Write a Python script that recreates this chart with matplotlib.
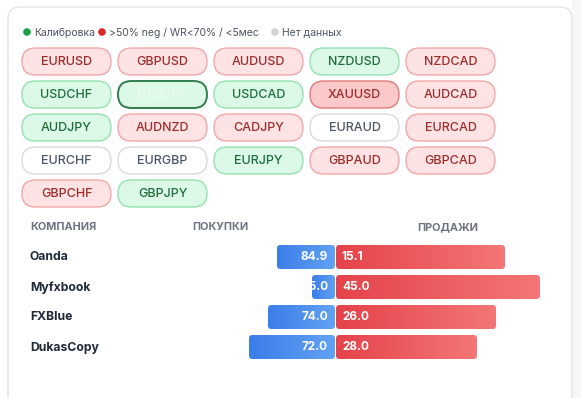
import numpy as np
import matplotlib.pyplot as plt
from matplotlib.patches import FancyBboxPatch, Circle, Rectangle
from matplotlib.colors import LinearSegmentedColormap

plt.rcParams['font.family'] = ['Inter', 'DejaVu Sans']

# ----------------- data -----------------
pairs = ["EURUSD", "GBPUSD", "AUDUSD", "NZDUSD", "NZDCAD",
         "USDCHF", "USDJPY", "USDCAD", "XAUUSD", "AUDCAD",
         "AUDJPY", "AUDNZD", "CADJPY", "EURAUD", "EURCAD",
         "EURCHF", "EURGBP", "EURJPY", "GBPAUD", "GBPCAD",
         "GBPCHF", "GBPJPY"]
status = ["red", "red", "red", "green", "red",
          "green", "green_sel", "green", "red_strong", "red",
          "green", "red", "red", "gray", "red",
          "gray", "gray", "green", "red", "red",
          "red", "green"]

legend_labels = ["Калибровка", ">50% neg / WR<70% / <5мес", "Нет данных"]

companies = ["Oanda", "Myfxbook", "FXBlue", "DukasCopy"]
buy_pct = [84.9, 55.0, 74.0, 72.0]
sell_pct = [15.1, 45.0, 26.0, 28.0]
# bar lengths as drawn (screen units)
buy_len = [58, 23, 67, 86]
sell_len = [169, 204, 160, 141]

# ----------------- styles -----------------
pill_style = {
    "red":        ("#fde3e3", "#f1a7a7", "#9b2c2c", 1.0),
    "red_strong": ("#fbc9c9", "#e07a7a", "#9b2c2c", 1.0),
    "green":      ("#dcf8e6", "#93e2af", "#1e6b3c", 1.0),
    "green_sel":  ("#dcf8e6", "#2f7d4c", "#eefaf2", 1.4),
    "gray":       ("#ffffff", "#d6d9de", "#4b5563", 1.0),
}
legend_colors = ["#16a34a", "#dc2626", "#d4d4d8"]

fig = plt.figure(figsize=(5.81, 3.98), dpi=100)
ax = fig.add_axes([0, 0, 1, 1])
W, H = 581, 398

# background strip + card
ax.add_patch(Rectangle((572, 0), 10, H, facecolor="#f7f7f8", edgecolor="none"))
ax.add_patch(FancyBboxPatch((8, 7), 564, 430,
                            boxstyle="round,pad=0,rounding_size=12",
                            facecolor="white", edgecolor="#e3e5e8", lw=1.0))

# legend
lx = [27, 102, 275]
for i, lab in enumerate(legend_labels):
    ax.add_patch(Circle((lx[i], 32), 3.8, facecolor=legend_colors[i], edgecolor="none"))
    ax.text(lx[i] + 7, 32.5, lab, fontsize=7.5, color="#4b5563", va="center", ha="left")

# pills grid
pw, ph = 89, 27
for k, (name, st) in enumerate(zip(pairs, status)):
    r, c = divmod(k, 5)
    x0 = 22 + c * 96
    y0 = 48 + r * 33
    fc, ec, tc, lw = pill_style[st]
    ax.add_patch(FancyBboxPatch((x0, y0), pw, ph,
                                boxstyle="round,pad=0,rounding_size=13.5",
                                facecolor=fc, edgecolor=ec, lw=lw))
    ax.text(x0 + pw / 2, y0 + ph / 2 + 0.5, name, fontsize=9, color=tc,
            ha="center", va="center", fontweight="medium")

# column headers
hy = 227.5
ax.text(30, hy, "КОМПАНИЯ", fontsize=7.8, color="#6b7280", fontweight="bold", va="center")
ax.text(192, hy, "ПОКУПКИ", fontsize=7.8, color="#6b7280", fontweight="bold", va="center")
ax.text(448, hy, "ПРОДАЖИ", fontsize=7.8, color="#6b7280", fontweight="bold",
        va="center", ha="center")

# bars
center = 335
ys = 257 + 30 * np.arange(len(companies))
blue_cm = LinearSegmentedColormap.from_list("b", ["#3b7de9", "#62a2f3"])
red_cm = LinearSegmentedColormap.from_list("r", ["#e4434a", "#f47676"])
grad = np.linspace(0, 1, 256).reshape(1, -1)

buy_bars = ax.barh(ys, -np.array(buy_len), left=center, height=24, color="none")
sell_bars = ax.barh(ys, sell_len, left=center + 1, height=24, color="none")

for bars, cm in ((buy_bars, blue_cm), (sell_bars, red_cm)):
    for b in bars:
        x, y, w, h = b.get_x(), b.get_y(), b.get_width(), b.get_height()
        if w < 0:
            x, w = x + w, -w
        clip = FancyBboxPatch((x, y), w, h, boxstyle="round,pad=0,rounding_size=3.5",
                              facecolor="none", edgecolor="none")
        ax.add_patch(clip)
        im = ax.imshow(grad, cmap=cm, extent=(x, x + w, y + h, y), aspect="auto",
                       interpolation="bilinear", zorder=2)
        im.set_clip_path(clip)

for i, comp in enumerate(companies):
    ax.text(30, ys[i] + 0.5, comp, fontsize=8.8, color="#1f2937", fontweight="bold",
            va="center", ha="left")
    ax.text(center - 7, ys[i] + 0.5, f"{buy_pct[i]:.1f}", fontsize=8.5, color="white",
            fontweight="bold", va="center", ha="right", zorder=3)
    ax.text(center + 7, ys[i] + 0.5, f"{sell_pct[i]:.1f}", fontsize=8.5, color="white",
            fontweight="bold", va="center", ha="left", zorder=3)

ax.set_xlim(0, W)
ax.set_ylim(H, 0)
ax.axis("off")
fig.savefig("out.png", dpi=100)
